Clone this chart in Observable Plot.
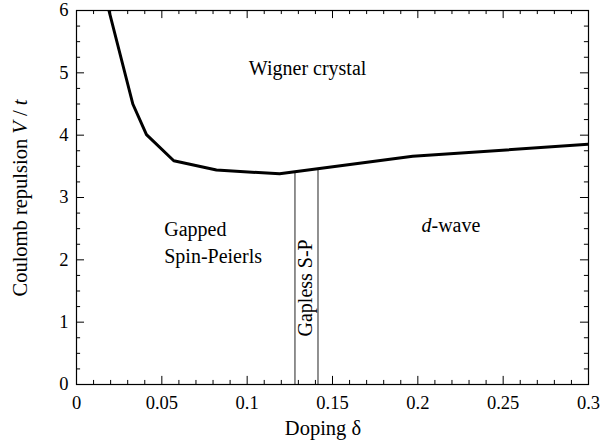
<!DOCTYPE html>
<html>
<head>
<meta charset="utf-8">
<script src="https://cdn.jsdelivr.net/npm/d3@7"></script>
<script src="https://cdn.jsdelivr.net/npm/@observablehq/plot@0.6"></script>
<style>
  html, body { margin: 0; padding: 0; background: #fff; font-family: "Liberation Serif", serif; }
  svg text, svg tspan { font-family: "Liberation Serif", serif !important; }
</style>
</head>
<body>
<div id="chart"></div>
<script>
// Phase boundary (Wigner crystal vs. rest)
const boundaryDelta = [0.019, 0.033, 0.041, 0.057, 0.082, 0.119, 0.197, 0.3];
const boundaryV     = [6.0,   4.5,   4.01,  3.59,  3.44,  3.38,  3.66,  3.855];

// Vertical boundaries of the gapless S-P region
const spDelta = [0.128, 0.1415];
const spTop   = [3.41, 3.45];

// Ticks
const xMajor = [0, 0.05, 0.1, 0.15, 0.2, 0.25, 0.3];
const xMinor = d3.range(0, 31).map(i => i / 100).filter(v => Math.round(v * 100) % 5 !== 0);
const yMajor = [0, 1, 2, 3, 4, 5, 6];
const yMinor = d3.range(0, 25).map(i => i / 4).filter(v => v % 1 !== 0);
const xTickLabels = ["0", "0.05", "0.1", "0.15", "0.2", "0.25", "0.3"];

// Region labels
const wignerLabel = ["Wigner crystal"];   const wignerDelta = [0.101]; const wignerV = [5.07];
const gappedLabel = ["Gapped\nSpin-Peierls"]; const gappedDelta = [0.0514]; const gappedV = [2.31];
const dwaveLabel  = ["d-wave"];           const dwaveDelta = [0.2194]; const dwaveV = [2.546];
const gaplessLabel = ["Gapless S-P"];     const gaplessDelta = [0.1345]; const gaplessV = [1.55];

const curve = boundaryDelta.map((d, i) => ({delta: d, V: boundaryV[i]}));
const sp = spDelta.map((d, i) => ({delta: d, top: spTop[i]}));

const FONT = "Liberation Serif";
const majY = 0.13, minY = 0.065;       // tick lengths in V units
const majX = 0.0047, minX = 0.0024;    // tick lengths in delta units

const plot = Plot.plot({
  width: 600,
  height: 445,
  marginLeft: 76,
  marginRight: 12,
  marginTop: 10,
  marginBottom: 61,
  x: {domain: [0, 0.3], axis: null},
  y: {domain: [0, 6], axis: null},
  marks: [
    Plot.ruleX(sp, {x: "delta", y1: 0, y2: "top", stroke: "#555", strokeWidth: 1.3}),
    Plot.ruleX(xMajor, {x: d => d, y1: 0, y2: majY, stroke: "#000"}),
    Plot.ruleX(xMinor, {x: d => d, y1: 0, y2: minY, stroke: "#000"}),
    Plot.ruleX(xMajor, {x: d => d, y1: 6, y2: 6 - majY, stroke: "#000"}),
    Plot.ruleX(xMinor, {x: d => d, y1: 6, y2: 6 - minY, stroke: "#000"}),
    Plot.ruleY(yMajor, {y: d => d, x1: 0, x2: majX, stroke: "#000"}),
    Plot.ruleY(yMinor, {y: d => d, x1: 0, x2: minX, stroke: "#000"}),
    Plot.ruleY(yMajor, {y: d => d, x1: 0.3, x2: 0.3 - majX, stroke: "#000"}),
    Plot.ruleY(yMinor, {y: d => d, x1: 0.3, x2: 0.3 - minX, stroke: "#000"}),
    Plot.line(curve, {x: "delta", y: "V", stroke: "#000", strokeWidth: 3, clip: true}),
    Plot.text(wignerLabel, {x: wignerDelta, y: wignerV, text: d => d, textAnchor: "start", fontSize: 20, fontFamily: FONT, fill: "#000"}),
    Plot.text(gappedLabel, {x: gappedDelta, y: gappedV, text: d => d, textAnchor: "start", fontSize: 20, fontFamily: FONT, lineHeight: 1.35, fill: "#000"}),
    Plot.text(dwaveLabel, {x: dwaveDelta, y: dwaveV, text: d => d, textAnchor: "middle", fontSize: 20, fontFamily: FONT, fill: "#000"}),
    Plot.text(gaplessLabel, {x: gaplessDelta, y: gaplessV, text: d => d, rotate: -90, textAnchor: "middle", fontSize: 20, fontFamily: FONT, fill: "#000"}),
    Plot.frame({stroke: "#000", strokeWidth: 1.2}),
    Plot.axisX(xMajor, {tickSize: 0, tickPadding: 11, tickFormat: (d, i) => xTickLabels[i], label: null, fill: "#000", fontSize: 18.5, fontFamily: FONT}),
    Plot.axisY(yMajor, {tickSize: 0, tickPadding: 8, tickFormat: d => String(d), label: null, fill: "#000", fontSize: 18.5, fontFamily: FONT})
  ]
});

// drop Plot's sans-serif default so everything inherits the serif family
plot.removeAttribute("font-family");
plot.setAttribute("font-family", FONT);
plot.style.fontFamily = "'" + FONT + "'";
document.getElementById("chart").appendChild(plot);
const svg = d3.select(plot);

svg.selectAll("text").filter(function() { return this.textContent === "d-wave"; }).each(function() {
  const t = d3.select(this);
  t.text(null);
  t.append("tspan").attr("font-style", "italic").text("d");
  t.append("tspan").text("-wave");
});

const yl = svg.append("g").attr("font-size", 20.5).append("text")
  .attr("transform", "translate(27,198) rotate(-90)")
  .attr("text-anchor", "middle")
  .attr("fill", "#000");
yl.append("tspan").text("Coulomb repulsion ");
yl.append("tspan").attr("font-style", "italic").text("V");
yl.append("tspan").text(" / ");
yl.append("tspan").attr("font-style", "italic").text("t");

svg.append("g").attr("font-size", 20.5).append("text")
  .attr("x", 323).attr("y", 435)
  .attr("text-anchor", "middle")
  .attr("fill", "#000")
  .text("Doping δ");

// serif font applied on every text element (attribute + inline style)
svg.selectAll("g").attr("font-family", FONT);
svg.selectAll("text, tspan").each(function() {
  this.setAttribute("font-family", FONT);
  this.style.fontFamily = "'" + FONT + "'";
});
</script>
</body>
</html>
